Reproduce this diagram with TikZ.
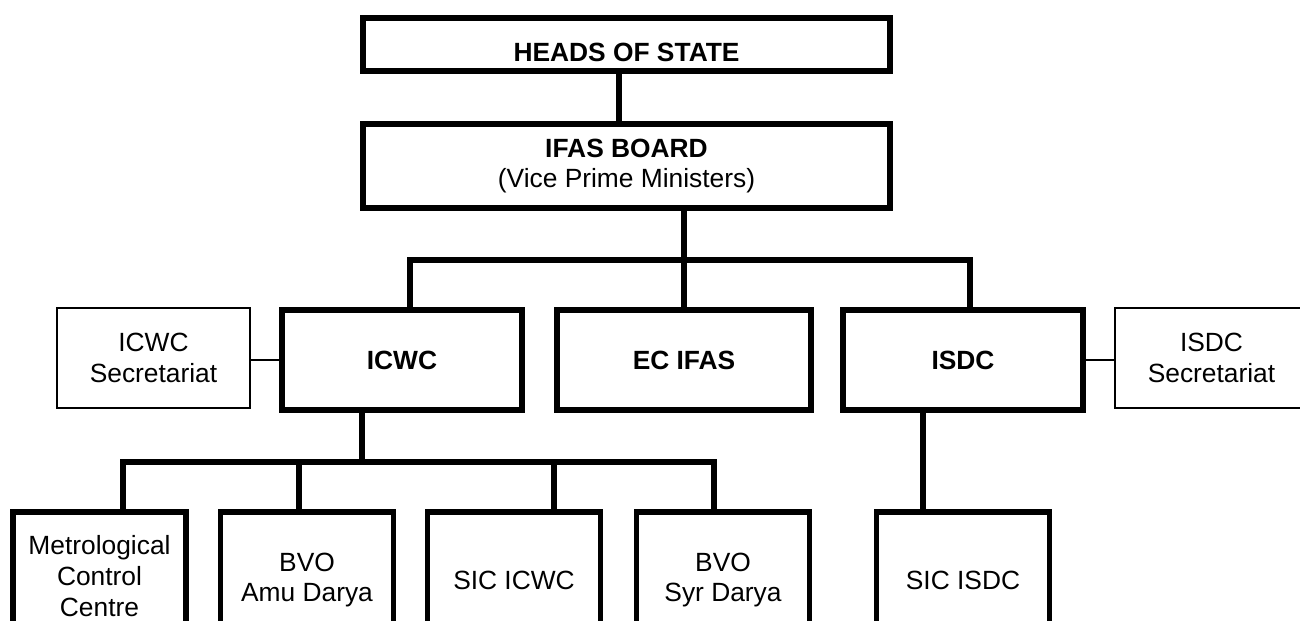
\documentclass[tikz,border=0pt]{standalone}
\usepackage{fontspec}
\setmainfont{Liberation Sans}

\begin{document}
\begin{tikzpicture}[x=0.02cm,y=-0.02cm,
	font=\fontsize{15}{17.6}\selectfont,
	box/.style={draw,line width=3.1pt,align=center,inner sep=0pt},
	aside/.style={draw,line width=1pt,align=center,inner sep=0pt,minimum width=3.86cm,minimum height=2cm},
	low/.style={box,minimum width=3.46cm,minimum height=2.72cm},
	link/.style={line width=3.1pt},
	thinlink/.style={line width=0.9pt}]
	\useasboundingbox (0,0) rectangle (1300,621);
	\clip (0,0) rectangle (1300,621);
			\node[box,minimum width=10.54cm,minimum height=1.06cm,text height=0.7cm,text depth=0pt] (heads) at (626.5,44.5) {\bfseries HEADS OF STATE};
			\node[box,minimum width=10.54cm,minimum height=1.68cm] (ifas) at (626.5,166) {\bfseries IFAS BOARD\\(Vice Prime Ministers)};
			\node[box,minimum width=4.8cm,minimum height=2cm] (icwc) at (402,360) {\bfseries ICWC};
			\node[box,minimum width=5.08cm,minimum height=2cm] (ecifas) at (684,360) {\bfseries EC IFAS};
			\node[box,minimum width=4.8cm,minimum height=2cm] (isdc) at (963,360) {\bfseries ISDC};
			\node[aside] (icwcsec) at (153.5,358) {ICWC\\Secretariat};
			\node[aside] (isdcsec) at (1211.5,358) {ISDC\\Secretariat};
			\node[low,minimum height=2.56cm] (mcc) at (99.5,576) {Metrological\\Control\\Centre};
			\node[low] (amu) at (307,580) {BVO\\Amu Darya};
			\node[low] (sicicwc) at (514,580) {SIC ICWC};
			\node[low] (syr) at (723,580) {BVO\\Syr Darya};
			\node[low] (sicisdc) at (963,580) {SIC ISDC};
			\coordinate (hv) at (619,100);
			\coordinate (barL) at (410,260);
			\coordinate (barR) at (970,260);
			\coordinate (subC) at (362,462);
			\coordinate (subL) at (123,462);
			\coordinate (subA) at (299,462);
			\coordinate (subS) at (554,462);
			\coordinate (subR) at (714,462);
			\coordinate (isdcv) at (923,462);
			\draw[link] (heads.south -| hv) -- (ifas.north -| hv);
			\draw[link] (ifas.south -| ecifas.north) -- (ecifas.north);
			\draw[link] (barL |- icwc.north) -- (barL) -- (barR) -- (barR |- isdc.north);
			\draw[link] (icwc.south -| subC) -- (subC);
			\draw[link] (subL |- mcc.north) -- (subL) -- (subR) -- (subR |- syr.north);
			\draw[link] (subA) -- (subA |- amu.north);
			\draw[link] (subS) -- (subS |- sicicwc.north);
			\draw[link] (isdc.south -| isdcv) -- (sicisdc.north -| isdcv);
			\draw[thinlink] (icwc.west) -- (icwc.west -| icwcsec.east);
			\draw[thinlink] (isdc.east) -- (isdc.east -| isdcsec.west);
		\end{tikzpicture}
\end{document}
